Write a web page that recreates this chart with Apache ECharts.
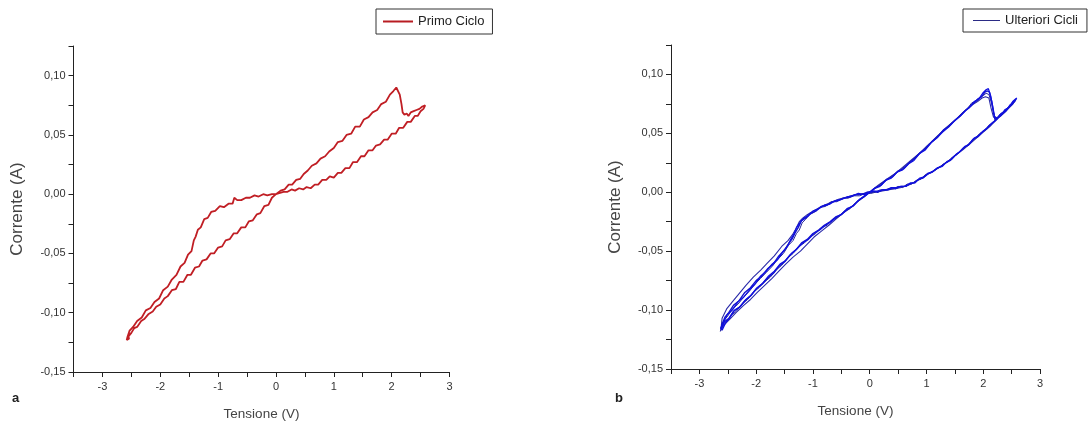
<!DOCTYPE html>
<html>
<head>
<meta charset="utf-8">
<script src="https://cdn.jsdelivr.net/npm/echarts@6/dist/echarts.min.js"></script>
<style>html,body{margin:0;padding:0;background:#fff;}#c{width:1091px;height:426px;}</style>
</head>
<body>
<div id="c"></div>
<script>
// ---------- Panel a : Primo Ciclo (V, A) ----------
const primoV = [
  0.00,0.08,0.15,0.22,0.28,0.35,0.42,0.48,0.55,0.62,0.70,0.77,0.85,0.92,1.00,1.07,1.15,1.22,1.30,1.37,1.45,1.52,1.60,1.67,1.75,1.82,1.90,1.97,2.03,2.08,
  2.11,2.14,2.17,2.19,2.22,2.26,2.29,2.33,2.38,2.43,2.48,2.53,2.58,
  2.55,2.50,2.45,2.40,2.33,2.27,2.20,2.13,2.07,2.00,1.93,1.87,1.80,1.73,1.67,1.60,1.53,1.47,1.40,1.33,1.27,1.20,1.13,1.07,1.00,0.93,0.87,0.80,0.73,0.67,0.60,0.53,0.47,0.40,0.33,0.27,0.20,0.13,0.07,0.00,
  -0.07,-0.15,-0.22,-0.30,-0.37,-0.45,-0.52,-0.60,-0.67,-0.72,-0.75,-0.82,-0.90,-0.97,-1.05,-1.12,-1.18,-1.24,-1.30,-1.35,-1.39,-1.42,-1.46,-1.52,-1.58,-1.65,-1.72,-1.80,-1.87,-1.95,-2.02,-2.10,-2.17,-2.25,-2.32,-2.40,-2.47,-2.53,-2.57,
  -2.58,-2.56,-2.54,
  -2.55,-2.50,-2.45,-2.40,-2.33,-2.27,-2.20,-2.13,-2.07,-2.00,-1.93,-1.87,-1.80,-1.73,-1.67,-1.60,-1.53,-1.47,-1.40,-1.33,-1.27,-1.20,-1.13,-1.07,-1.00,-0.93,-0.87,-0.80,-0.73,-0.67,-0.60,-0.53,-0.47,-0.40,-0.33,-0.27,-0.20,-0.13,-0.07,0.00
];
const primoI = [
  0.000,0.003,0.004,0.008,0.008,0.012,0.013,0.017,0.020,0.024,0.026,0.030,0.032,0.036,0.039,0.044,0.045,0.050,0.051,0.057,0.057,0.063,0.065,0.069,0.071,0.076,0.078,0.084,0.087,0.090,
  0.089,0.084,0.076,0.069,0.067,0.068,0.066,0.069,0.070,0.071,0.072,0.074,0.075,
  0.072,0.070,0.066,0.066,0.061,0.061,0.056,0.056,0.051,0.051,0.046,0.046,0.042,0.041,0.037,0.037,0.032,0.032,0.027,0.027,0.022,0.022,0.018,0.018,0.014,0.015,0.012,0.012,0.008,0.008,0.005,0.006,0.004,0.005,0.003,0.004,0.002,0.002,0.001,0.000,
  0.000,-0.001,0.000,-0.002,-0.001,-0.003,-0.003,-0.005,-0.005,-0.003,-0.008,-0.008,-0.011,-0.010,-0.014,-0.015,-0.020,-0.021,-0.028,-0.030,-0.036,-0.039,-0.048,-0.051,-0.058,-0.061,-0.068,-0.072,-0.078,-0.081,-0.088,-0.091,-0.096,-0.098,-0.104,-0.107,-0.112,-0.115,-0.121,
  -0.123,-0.124,-0.122,
  -0.120,-0.117,-0.113,-0.112,-0.107,-0.105,-0.101,-0.099,-0.095,-0.093,-0.088,-0.086,-0.081,-0.080,-0.074,-0.074,-0.068,-0.068,-0.062,-0.061,-0.056,-0.055,-0.050,-0.050,-0.045,-0.044,-0.039,-0.038,-0.033,-0.033,-0.028,-0.028,-0.023,-0.022,-0.017,-0.016,-0.010,-0.009,-0.003,0.000
];

// ---------- Panel b : Ulteriori Cicli (four cycles) ----------
const cicloAV = [
  0.00,0.10,0.20,0.30,0.40,0.50,0.60,0.70,0.80,0.90,1.00,1.10,1.20,1.30,1.40,1.50,1.60,1.70,1.80,1.90,1.97,2.03,2.07,2.11,2.15,2.18,2.21,2.27,2.33,2.40,2.47,2.53,2.58,
  2.52,2.45,2.38,2.30,2.22,2.14,2.06,1.98,1.90,1.82,1.74,1.66,1.58,1.50,1.42,1.34,1.26,1.18,1.10,1.02,0.94,0.86,0.78,0.70,0.62,0.54,0.46,0.38,0.30,0.22,0.14,0.06,
  -0.05,-0.15,-0.25,-0.35,-0.45,-0.55,-0.65,-0.75,-0.85,-0.95,-1.05,-1.13,-1.20,-1.26,-1.31,-1.36,-1.42,-1.50,-1.60,-1.70,-1.80,-1.90,-2.00,-2.10,-2.20,-2.30,-2.40,-2.48,-2.55,-2.60,
  -2.62,-2.56,-2.48,-2.40,-2.30,-2.20,-2.10,-2.00,-1.90,-1.80,-1.70,-1.60,-1.50,-1.40,-1.30,-1.20,-1.10,-1.00,-0.90,-0.80,-0.70,-0.60,-0.50,-0.40,-0.30,-0.20,-0.10,0.00
];
const cicloAI = [
  0.000,0.004,0.006,0.011,0.013,0.018,0.020,0.025,0.029,0.034,0.038,0.043,0.047,0.053,0.056,0.061,0.065,0.070,0.074,0.079,0.081,0.085,0.086,0.085,0.077,0.068,0.061,0.064,0.066,0.070,0.073,0.077,0.079,
  0.075,0.072,0.068,0.066,0.061,0.058,0.054,0.051,0.047,0.045,0.040,0.038,0.034,0.031,0.027,0.025,0.022,0.020,0.017,0.016,0.012,0.011,0.008,0.007,0.005,0.005,0.003,0.004,0.002,0.002,0.000,0.001,
  0.000,-0.002,-0.002,-0.004,-0.005,-0.007,-0.008,-0.011,-0.012,-0.016,-0.018,-0.022,-0.024,-0.030,-0.034,-0.039,-0.043,-0.049,-0.054,-0.061,-0.065,-0.071,-0.075,-0.081,-0.085,-0.092,-0.096,-0.102,-0.106,-0.112,
  -0.116,-0.110,-0.107,-0.101,-0.098,-0.092,-0.088,-0.082,-0.078,-0.073,-0.069,-0.063,-0.059,-0.053,-0.049,-0.043,-0.040,-0.035,-0.032,-0.028,-0.025,-0.021,-0.019,-0.014,-0.012,-0.007,-0.004,0.000
];
const cicloBV = [
  0.00,0.12,0.22,0.32,0.42,0.52,0.62,0.72,0.82,0.92,1.02,1.12,1.22,1.32,1.42,1.52,1.62,1.72,1.80,1.88,1.95,2.00,2.05,2.10,2.15,2.19,2.23,2.30,2.37,2.44,2.50,2.56,
  2.50,2.42,2.34,2.26,2.18,2.10,2.02,1.94,1.86,1.78,1.70,1.62,1.54,1.46,1.38,1.30,1.22,1.14,1.06,0.98,0.90,0.82,0.74,0.66,0.58,0.50,0.42,0.34,0.26,0.18,0.10,0.02,
  -0.08,-0.18,-0.28,-0.38,-0.48,-0.58,-0.68,-0.78,-0.88,-0.98,-1.06,-1.13,-1.19,-1.24,-1.29,-1.35,-1.43,-1.52,-1.62,-1.72,-1.82,-1.92,-2.02,-2.12,-2.22,-2.32,-2.42,-2.50,-2.57,-2.61,
  -2.63,-2.58,-2.51,-2.43,-2.35,-2.25,-2.15,-2.05,-1.95,-1.85,-1.75,-1.65,-1.55,-1.45,-1.35,-1.25,-1.15,-1.05,-0.95,-0.85,-0.75,-0.65,-0.55,-0.45,-0.35,-0.25,-0.15,-0.05,0.00
];
const cicloBI = [
  0.000,0.004,0.008,0.011,0.015,0.018,0.022,0.026,0.031,0.035,0.040,0.044,0.049,0.053,0.058,0.062,0.067,0.071,0.076,0.077,0.081,0.082,0.084,0.083,0.075,0.066,0.062,0.066,0.068,0.072,0.075,0.078,
  0.074,0.071,0.066,0.064,0.059,0.057,0.052,0.050,0.046,0.043,0.039,0.036,0.032,0.030,0.026,0.024,0.021,0.019,0.016,0.015,0.011,0.010,0.007,0.007,0.004,0.005,0.003,0.003,0.002,0.002,0.000,-0.001,
  -0.001,-0.003,-0.003,-0.005,-0.005,-0.008,-0.008,-0.012,-0.013,-0.017,-0.019,-0.023,-0.026,-0.032,-0.035,-0.041,-0.045,-0.052,-0.057,-0.063,-0.068,-0.073,-0.078,-0.084,-0.089,-0.095,-0.099,-0.105,-0.109,-0.114,
  -0.118,-0.112,-0.109,-0.104,-0.101,-0.095,-0.091,-0.085,-0.081,-0.076,-0.072,-0.066,-0.062,-0.056,-0.052,-0.046,-0.043,-0.038,-0.035,-0.030,-0.028,-0.023,-0.021,-0.016,-0.014,-0.009,-0.006,-0.001,0.000
];
const cicloCV = [
  0.00,0.08,0.18,0.28,0.38,0.48,0.58,0.68,0.78,0.88,0.98,1.08,1.18,1.28,1.38,1.48,1.58,1.68,1.76,1.84,1.92,1.99,2.05,2.09,2.13,2.17,2.20,2.25,2.31,2.38,2.45,2.52,2.59,
  2.54,2.47,2.40,2.32,2.24,2.16,2.08,2.00,1.92,1.84,1.76,1.68,1.60,1.52,1.44,1.36,1.28,1.20,1.12,1.04,0.96,0.88,0.80,0.72,0.64,0.56,0.48,0.40,0.32,0.24,0.16,0.08,
  0.00,-0.10,-0.20,-0.30,-0.40,-0.50,-0.60,-0.70,-0.80,-0.90,-1.00,-1.08,-1.16,-1.23,-1.29,-1.34,-1.39,-1.44,-1.52,-1.62,-1.72,-1.82,-1.92,-2.02,-2.12,-2.22,-2.32,-2.42,-2.51,-2.58,-2.62,
  -2.60,-2.54,-2.46,-2.38,-2.28,-2.18,-2.08,-1.98,-1.88,-1.78,-1.68,-1.58,-1.48,-1.38,-1.28,-1.18,-1.08,-0.98,-0.88,-0.78,-0.68,-0.58,-0.48,-0.38,-0.28,-0.18,-0.08,0.00
];
const cicloCI = [
  0.000,0.003,0.005,0.010,0.012,0.017,0.019,0.024,0.027,0.033,0.036,0.042,0.046,0.051,0.055,0.060,0.064,0.069,0.072,0.077,0.079,0.084,0.087,0.088,0.082,0.072,0.064,0.063,0.065,0.070,0.072,0.077,0.080,
  0.077,0.074,0.069,0.067,0.062,0.059,0.055,0.052,0.048,0.046,0.041,0.039,0.035,0.032,0.028,0.026,0.022,0.021,0.018,0.016,0.013,0.012,0.008,0.008,0.005,0.005,0.004,0.004,0.002,0.002,0.001,0.001,
  0.000,-0.002,-0.001,-0.003,-0.004,-0.006,-0.007,-0.010,-0.011,-0.014,-0.016,-0.020,-0.022,-0.026,-0.030,-0.036,-0.040,-0.045,-0.050,-0.057,-0.061,-0.067,-0.071,-0.078,-0.083,-0.089,-0.093,-0.100,-0.104,-0.111,-0.115,
  -0.117,-0.111,-0.106,-0.100,-0.097,-0.091,-0.087,-0.081,-0.077,-0.071,-0.067,-0.061,-0.058,-0.052,-0.048,-0.043,-0.040,-0.035,-0.032,-0.028,-0.025,-0.021,-0.018,-0.014,-0.011,-0.006,-0.003,0.000
];
const cicloDV = [
  0.00,0.15,0.30,0.45,0.60,0.75,0.90,1.05,1.20,1.35,1.50,1.65,1.80,1.90,1.98,2.04,2.10,2.14,2.18,2.22,2.30,2.40,2.50,2.57,
  2.48,2.36,2.24,2.12,2.00,1.88,1.76,1.64,1.52,1.40,1.28,1.16,1.04,0.92,0.80,0.68,0.56,0.44,0.32,0.20,0.08,
  -0.10,-0.25,-0.40,-0.55,-0.70,-0.85,-1.00,-1.10,-1.18,-1.24,-1.30,-1.36,-1.44,-1.55,-1.68,-1.80,-1.92,-2.05,-2.18,-2.30,-2.42,-2.52,-2.60,
  -2.62,-2.55,-2.45,-2.35,-2.22,-2.10,-1.98,-1.85,-1.72,-1.60,-1.48,-1.35,-1.22,-1.10,-0.98,-0.85,-0.72,-0.60,-0.48,-0.36,-0.24,-0.12,0.00
];
const cicloDI = [
  0.000,0.006,0.011,0.016,0.022,0.028,0.034,0.041,0.048,0.055,0.061,0.068,0.074,0.077,0.080,0.081,0.080,0.071,0.064,0.062,0.066,0.070,0.074,0.078,
  0.073,0.067,0.062,0.056,0.051,0.046,0.041,0.036,0.032,0.027,0.023,0.019,0.016,0.012,0.009,0.006,0.004,0.003,0.002,0.001,0.000,
  -0.001,-0.002,-0.004,-0.006,-0.009,-0.012,-0.016,-0.019,-0.022,-0.025,-0.031,-0.036,-0.041,-0.046,-0.054,-0.060,-0.066,-0.072,-0.079,-0.086,-0.093,-0.099,-0.107,
  -0.116,-0.112,-0.107,-0.102,-0.096,-0.091,-0.085,-0.079,-0.073,-0.067,-0.061,-0.055,-0.050,-0.044,-0.038,-0.033,-0.028,-0.023,-0.018,-0.014,-0.009,-0.004,0.000
];

// ---------- axis ticks ----------
const xMin = -3.5, xMax = 3, xStep = 0.5;
const yMin = -0.15, yMax = 0.125, yStep = 0.025;

const zip = (a, b) => a.map((v, i) => [v, b[i]]);
const FONT = "'Liberation Sans', Arial, sans-serif";

function xAxisCfg(gi) {
  return {
    type: 'value', gridIndex: gi, min: xMin, max: xMax, interval: xStep,
    name: 'Tensione (V)', nameLocation: 'middle', nameGap: 35,
    nameTextStyle: { fontSize: 13.5, color: '#444', fontFamily: FONT },
    axisLine: { show: true, onZero: false, lineStyle: { color: '#222', width: 1 } },
    axisTick: { show: true, length: 5, lineStyle: { color: '#222' } },
    axisLabel: {
      fontSize: 11, color: '#333', fontFamily: FONT, margin: 9,
      formatter: v => (Math.abs(v - Math.round(v)) < 1e-6 ? String(Math.round(v)) : '')
    },
    splitLine: { show: false }
  };
}
function yAxisCfg(gi, gap) {
  return {
    type: 'value', gridIndex: gi, min: yMin, max: yMax, interval: yStep,
    name: 'Corrente (A)', nameLocation: 'middle', nameGap: gap, nameRotate: 90,
    nameTextStyle: { fontSize: 17, color: '#444', fontFamily: FONT },
    axisLine: { show: true, onZero: false, lineStyle: { color: '#222', width: 1 } },
    axisTick: { show: true, length: 5, lineStyle: { color: '#222' } },
    axisLabel: {
      fontSize: 11, color: '#333', fontFamily: FONT, margin: 8,
      formatter: v => {
        const r = Math.round(v * 1000);
        if (r % 50 !== 0) return '';
        return (r / 1000).toFixed(2).replace('.', ',');
      }
    },
    splitLine: { show: false }
  };
}

const blueLine = (name, v, i, color, w) => ({
  name, type: 'line', xAxisIndex: 1, yAxisIndex: 1,
  data: zip(v, i), symbol: 'none', silent: true,
  itemStyle: { color }, lineStyle: { color, width: w }
});

const chart = echarts.init(document.getElementById('c'), null, { renderer: 'canvas' });
chart.setOption({
  animation: false,
  backgroundColor: '#fff',
  grid: [
    { left: 73.5, top: 46, width: 376, height: 326 },
    { left: 671, top: 45, width: 369, height: 324 }
  ],
  xAxis: [xAxisCfg(0), xAxisCfg(1)],
  yAxis: [yAxisCfg(0, 48), yAxisCfg(1, 47)],
  legend: [
    {
      data: [{ name: 'Primo Ciclo', itemStyle: { color: '#b81c22' } }],
      left: 376, top: 9, orient: 'horizontal',
      icon: 'rect', itemWidth: 30, itemHeight: 2,
      padding: [6, 8, 6, 7], borderColor: '#333', borderWidth: 1,
      textStyle: { fontSize: 13, color: '#222', fontFamily: FONT }
    },
    {
      data: [{ name: 'Ulteriori Cicli', itemStyle: { color: '#2b2b85' } }],
      left: 963, top: 9, orient: 'horizontal',
      icon: 'rect', itemWidth: 27, itemHeight: 1,
      padding: [5, 9, 5, 10], borderColor: '#333', borderWidth: 1,
      textStyle: { fontSize: 13, color: '#222', fontFamily: FONT }
    }
  ],
  graphic: [
    { type: 'text', left: 12, top: 392, style: { text: 'a', font: "bold 13px 'Liberation Sans', Arial, sans-serif", fill: '#222' } },
    { type: 'text', left: 615, top: 392, style: { text: 'b', font: "bold 13px 'Liberation Sans', Arial, sans-serif", fill: '#222' } }
  ],
  series: [
    {
      name: 'Primo Ciclo', type: 'line', xAxisIndex: 0, yAxisIndex: 0,
      data: zip(primoV, primoI), symbol: 'none', silent: true,
      itemStyle: { color: '#c01e24' }, lineStyle: { color: '#c01e24', width: 1.8 }
    },
    blueLine('Ulteriori Cicli', cicloDV, cicloDI, '#2a2aa8', 1.1),
    blueLine('Ulteriori Cicli', cicloBV, cicloBI, '#2a2a9c', 1),
    blueLine('Ulteriori Cicli', cicloAV, cicloAI, '#1414cc', 1.4),
    blueLine('Ulteriori Cicli', cicloCV, cicloCI, '#1010e0', 1.3)
  ]
});
</script>
</body>
</html>
